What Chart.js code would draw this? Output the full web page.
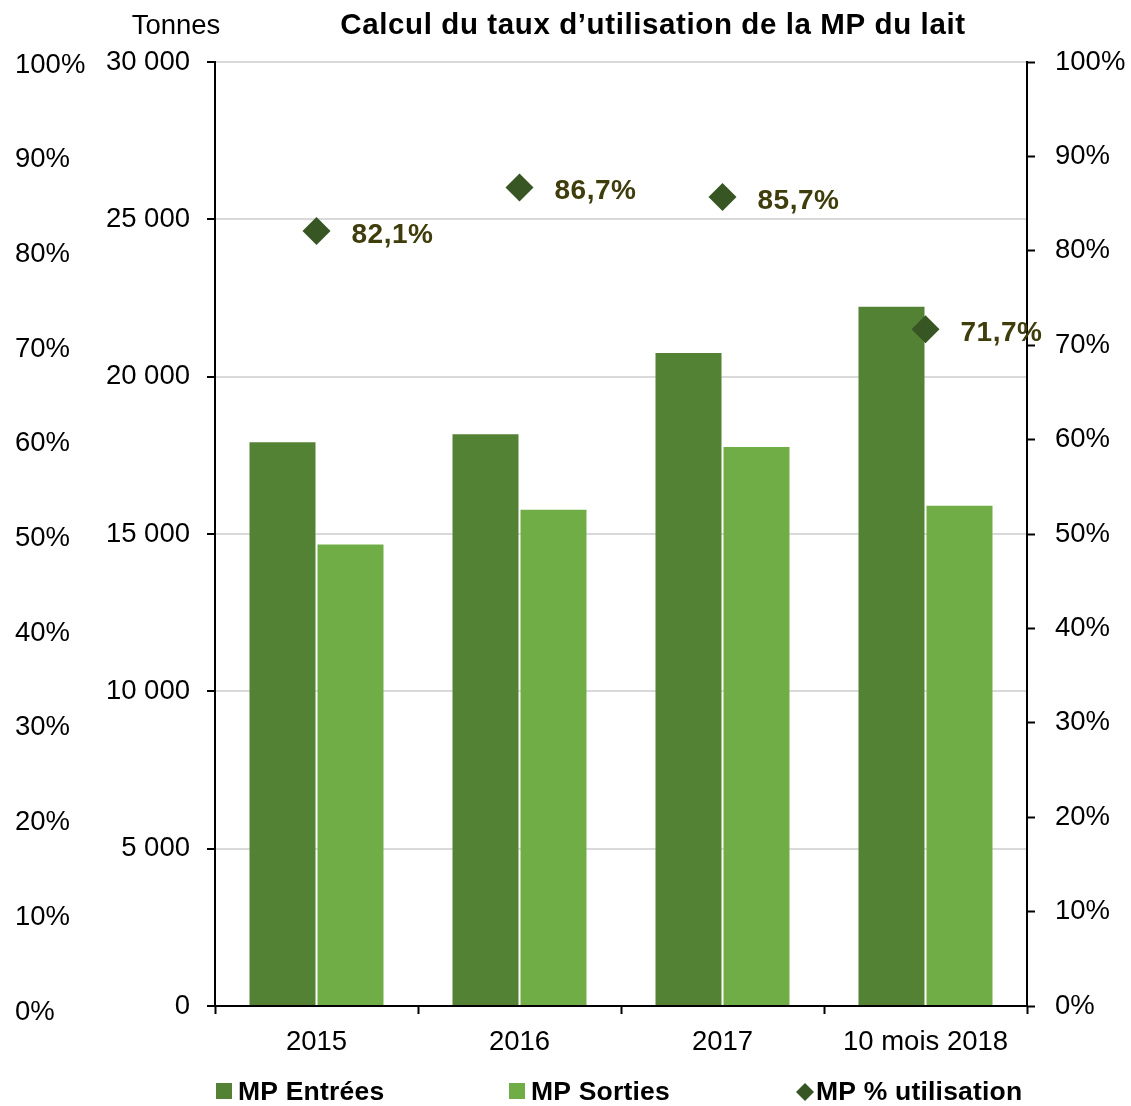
<!DOCTYPE html>
<html>
<head>
<meta charset="UTF-8">
<title>Calcul du taux d'utilisation de la MP du lait</title>
<script src="https://cdn.jsdelivr.net/npm/chart.js"></script>
<style>
  html, body { margin: 0; padding: 0; background: #fff; }
  #wrap { width: 1131px; height: 1106px; position: relative; }
</style>
</head>
<body>
<div id="wrap"><canvas id="chart"></canvas></div>
<script>
// données
const categories = ['2015', '2016', '2017', '10 mois 2018'];
const mpEntrees = [17950, 18200, 20780, 22250];
const mpSorties = [14700, 15800, 17800, 15930];
const mpUtilisation = [82.1, 86.7, 85.7, 71.7];
const pctTicks = [0, 10, 20, 30, 40, 50, 60, 70, 80, 90, 100];

const FONT = "'Liberation Sans', Arial, sans-serif";
const darkGreen = '#548235';
const lightGreen = '#70AD47';
const diamondColor = '#375623';
const labelColor = '#3F3D0B';

Chart.defaults.font.family = FONT;
Chart.defaults.font.size = 27.5;
Chart.defaults.color = '#000';

function tonnes(v) {
    return String(v).replace(/\B(?=(\d{3})+(?!\d))/g, ' ');
}

// titre, unité, étiquettes et légende
const extras = {
    id: 'extras',
    afterDatasetsDraw(chart) {
        const ctx = chart.ctx;
        const meta = chart.getDatasetMeta(2);
        ctx.save();
        ctx.font = 'bold 28px ' + FONT;
        ctx.fillStyle = labelColor;
        ctx.textAlign = 'left';
        ctx.textBaseline = 'middle';
        ctx.letterSpacing = '0.5px';
        meta.data.forEach((pt, i) => {
            const txt = mpUtilisation[i].toFixed(1).replace('.', ',') + '%';
            ctx.fillText(txt, pt.x + 35, pt.y + 4);
        });
        ctx.restore();
    },
    afterDraw(chart) {
        const ctx = chart.ctx;
        ctx.save();
        ctx.fillStyle = '#000';
        ctx.textBaseline = 'middle';
        ctx.textAlign = 'center';
        ctx.font = 'bold 29.5px ' + FONT;
        ctx.letterSpacing = '0.6px';
        ctx.fillText('Calcul du taux d\u2019utilisation de la MP du lait', 653, 26);
        ctx.letterSpacing = '0px';
        ctx.font = '27.5px ' + FONT;
        ctx.fillText('Tonnes', 176, 26);

        // légende
        const ds = chart.data.datasets;
        const items = [
            { x: 216, style: 'rect' },
            { x: 509, style: 'rect' },
            { x: 796, style: 'diamond' }
        ];
        ctx.font = 'bold 26.5px ' + FONT;
        ctx.textAlign = 'left';
        ctx.letterSpacing = '0.2px';
        items.forEach((it, i) => {
            ctx.fillStyle = ds[i].backgroundColor;
            if (it.style === 'rect') {
                ctx.fillRect(it.x, 1083, 16, 16);
                ctx.fillStyle = '#000';
                ctx.fillText(ds[i].label, it.x + 22, 1093);
            } else {
                ctx.beginPath();
                ctx.moveTo(it.x, 1092);
                ctx.lineTo(it.x + 9, 1083);
                ctx.lineTo(it.x + 18, 1092);
                ctx.lineTo(it.x + 9, 1101);
                ctx.closePath();
                ctx.fill();
                ctx.fillStyle = '#000';
                ctx.fillText(ds[i].label, it.x + 20, 1093);
            }
        });
        ctx.restore();
    }
};

new Chart(document.getElementById('chart'), {
    type: 'bar',
    data: {
        labels: categories,
        datasets: [
            {
                label: 'MP Entrées',
                data: mpEntrees,
                backgroundColor: darkGreen,
                borderColor: 'rgba(255,255,255,0.2)',
                borderWidth: 1,
                yAxisID: 'y',
                order: 1
            },
            {
                label: 'MP Sorties',
                data: mpSorties,
                backgroundColor: lightGreen,
                borderColor: 'rgba(255,255,255,0.2)',
                borderWidth: 1,
                yAxisID: 'y',
                order: 1
            },
            {
                type: 'line',
                label: 'MP % utilisation',
                data: mpUtilisation,
                showLine: false,
                pointStyle: 'rectRot',
                pointRadius: 14,
                pointBorderWidth: 0,
                backgroundColor: diamondColor,
                borderColor: diamondColor,
                yAxisID: 'y1',
                order: 0
            }
        ]
    },
    options: {
        responsive: true,
        maintainAspectRatio: false,
        animation: false,
        categoryPercentage: 0.67,
        barPercentage: 1,
        layout: { padding: { top: 62, left: 15, right: 0, bottom: 0 } },
        plugins: {
            legend: { display: false },
            tooltip: { enabled: false }
        },
        scales: {
            x: {
                offset: true,
                grid: {
                    offset: true,
                    drawOnChartArea: false,
                    tickLength: 8,
                    tickColor: '#000',
                    tickWidth: 2
                },
                border: { color: '#000', width: 2 },
                ticks: { padding: 12 },
                afterFit(s) { s.height = 100; }
            },
            y: {
                position: 'left',
                weight: 0,
                min: 0,
                max: 30000,
                ticks: { stepSize: 5000, padding: 17, callback: v => tonnes(v) },
                grid: {
                    color: '#d9d9d9',
                    lineWidth: 2,
                    tickLength: 8,
                    tickColor: '#000',
                    tickWidth: 2
                },
                border: { color: '#000', width: 2 },
                afterFit(s) { s.width = 120; }
            },
            yp: {
                position: 'left',
                weight: 1,
                min: 0.634,
                max: 100.317,
                grid: { display: false },
                border: { display: false },
                ticks: { crossAlign: 'far', autoSkip: false, callback: v => v + '%' },
                afterBuildTicks(s) { s.ticks = pctTicks.map(v => ({ value: v })); },
                afterFit(s) { s.width = 80; }
            },
            y1: {
                position: 'right',
                min: 0,
                max: 100,
                z: 1,
                ticks: { stepSize: 10, padding: 20, callback: v => v + '%' },
                grid: {
                    drawOnChartArea: false,
                    tickLength: 8,
                    tickColor: '#000',
                    tickWidth: 2
                },
                border: { color: '#000', width: 2 },
                afterFit(s) { s.width = 104; }
            }
        }
    },
    plugins: [extras]
});
</script>
</body>
</html>
